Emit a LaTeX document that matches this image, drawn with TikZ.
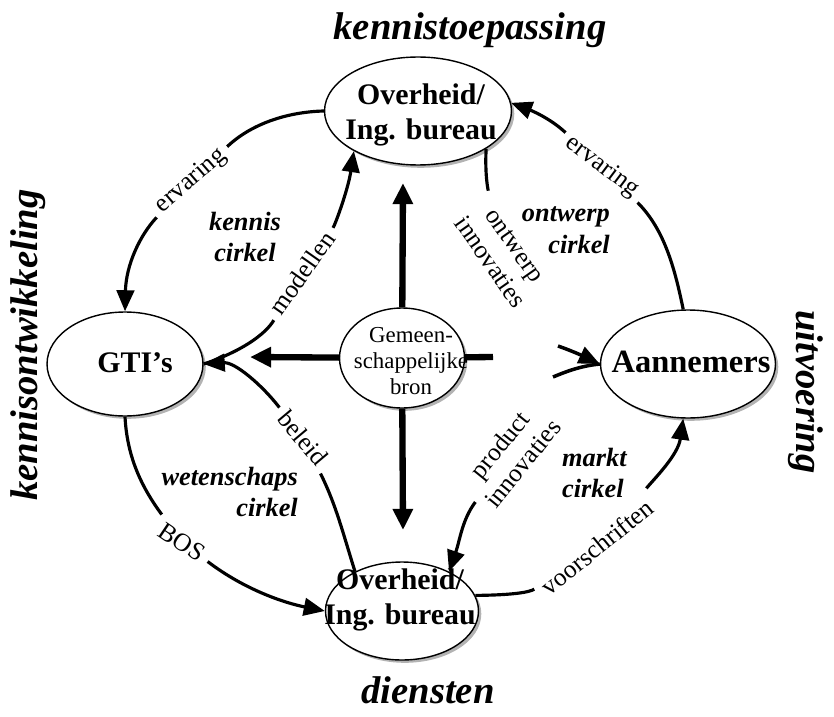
\documentclass[tikz,border=0pt]{standalone}
\usepackage{fontspec}
\setmainfont{Liberation Serif}
\usetikzlibrary{shapes.geometric,arrows.meta,shadows}

\tikzset{
  blob/.style={ellipse, draw, line width=0.8pt, fill=white, inner sep=0pt,
    drop shadow={shadow xshift=1.6pt, shadow yshift=-1.6pt, fill=black!50, opacity=0.6}},
  blobtxt/.style={font=\bfseries\fontsize{17}{19.5}\selectfont, align=center},
  srctxt/.style={font=\fontsize{13}{15}\selectfont, align=center},
  title/.style={font=\bfseries\itshape\fontsize{22}{24}\selectfont},
  cirk/.style={font=\bfseries\itshape\fontsize{15}{18}\selectfont},
  lab/.style={font=\fontsize{14.5}{17}\selectfont, align=center, inner sep=4pt},
  flow/.style={line width=1.8pt},
  tip/.style={-{Triangle[length=12pt,width=10pt]}},
  heavy/.style={line width=3.6pt, -{Triangle[length=12pt,width=11pt]}},
}

\begin{document}
\begin{tikzpicture}[x=0.02cm, y=-0.02cm]
  \useasboundingbox (0,0) rectangle (834,716);
  % ellipses
  \node[blob, minimum width=3.74cm, minimum height=2.16cm] (top) at (418,111) {};
  \node[blobtxt] (topTxt) at (421,115) {Overheid/\\Ing. bureau};
  \node[blob, minimum width=3.12cm, minimum height=2.08cm] (gti) at (125,364) {};
  \node[blobtxt] (gtiTxt) at (135,363) {GTI’s};
  \node[blob, minimum width=3.5cm, minimum height=2.16cm] (ann) at (688,364) {};
  \node[blobtxt, font=\bfseries\fontsize{18.5}{20}\selectfont] (annTxt) at (691,362) {Aannemers};
  \node[blob, minimum width=3.06cm, minimum height=1.96cm] (bot) at (402,611) {};
  \node[blobtxt] (botTxt) at (400,600) {Overheid/\\Ing. bureau};
  \node[blob, minimum width=2.5cm, minimum height=2cm] (ctr) at (402,358) {};
  \node[srctxt] (ctrTxt) at (411,361) {Gemeen-\\schappelijke\\bron};

  % titles
  \node[title] (kt) at (470,30) {kennistoepassing};
  \node[title] (di) at (428,690) {diensten};
  \node[title, rotate=90] (ko) at (28,345) {kennisontwikkeling};
  \node[title, rotate=-90] (ui) at (806,392) {uitvoering};

  % circle names
  \node[cirk, align=center] (kc) at (245,237) {kennis\\cirkel};
  \node[cirk, align=right, anchor=east] (oc) at (616,230) {ontwerp\\cirkel};
  \node[cirk, align=right, anchor=east] (wc) at (304,492) {wetenschaps\\cirkel};
  \node[cirk, align=left, anchor=west] (mc) at (556,473) {markt\\cirkel};

  % flow labels
  \node[lab, rotate=41] (ervL) at (191,181) {ervaring};
  \node[lab, rotate=55] (modL) at (302,273) {modellen};
  \node[lab, rotate=-37] (ervR) at (602,167) {ervaring};
  \node[lab, rotate=-55] (ontL) at (502,254) {ontwerp\\innovaties};
  \node[lab, rotate=-50] (belL) at (303,438) {beleid};
  \node[lab, rotate=-34] (bosL) at (182,542) {BOS};
  \node[lab, rotate=51] (prdL) at (511,454) {product\\innovaties};
  \node[lab, rotate=39] (vooL) at (597,547) {voorschriften};

  % free ends
  \coordinate (upTip) at (403,183);
  \coordinate (dnTip) at (403,530);
  \coordinate (lfTip) at (250,357);
  \coordinate (rtEnd) at (493,357);
  \coordinate (ontE) at (558,346);
  \coordinate (prdS) at (553,377);

  % common source
  \draw[heavy] (ctr) -- (upTip);
  \draw[heavy] (ctr) -- (dnTip);
  \draw[heavy] (ctr) -- (lfTip);
  \draw[line width=3.6pt] (ctr) -- (rtEnd);

  % kennis cirkel
  \draw[flow] (top.west) .. controls (285,112) and (250,125) .. (ervL);
  \draw[flow, tip] (ervL) .. controls (140,235) and (126,265) .. (gti.north);
  \draw[flow] (gti.east) .. controls (240,352) and (265,335) .. (modL);
  \draw[flow, tip] (modL) .. controls (335,225) and (348,190) .. (top.212);

  % ontwerp cirkel
  \draw[flow] (top.331) .. controls (485,170) and (487,185) .. (ontL);
  \draw[flow, tip, line width=2pt] (ontE) .. controls (575,352) and (585,357) .. (ann.west);
  \draw[flow] (ann.95) .. controls (675,270) and (665,230) .. (ervR);
  \draw[flow, tip] (ervR) .. controls (550,118) and (530,110) .. (top.5);

  % markt cirkel
  \draw[flow, line width=2pt] (ann.west) .. controls (580,366) and (565,372) .. (prdS);
  \draw[flow, tip] (prdL) .. controls (462,520) and (460,540) .. (bot.40);
  \draw[flow] (bot.12) .. controls (515,595) and (530,592) .. (vooL);
  \draw[flow, tip] (vooL) .. controls (655,478) and (678,455) .. (ann.265);

  % wetenschaps cirkel
  \draw[flow] (gti.south) .. controls (127,455) and (140,485) .. (bosL);
  \draw[flow, tip] (bosL) .. controls (245,590) and (285,603) .. (bot.west);
  \draw[flow] (bot.140) .. controls (342,530) and (336,505) .. (belL);
  \draw[flow, tip] (belL) .. controls (262,385) and (235,362) .. (gti.east);
\end{tikzpicture}
\end{document}
